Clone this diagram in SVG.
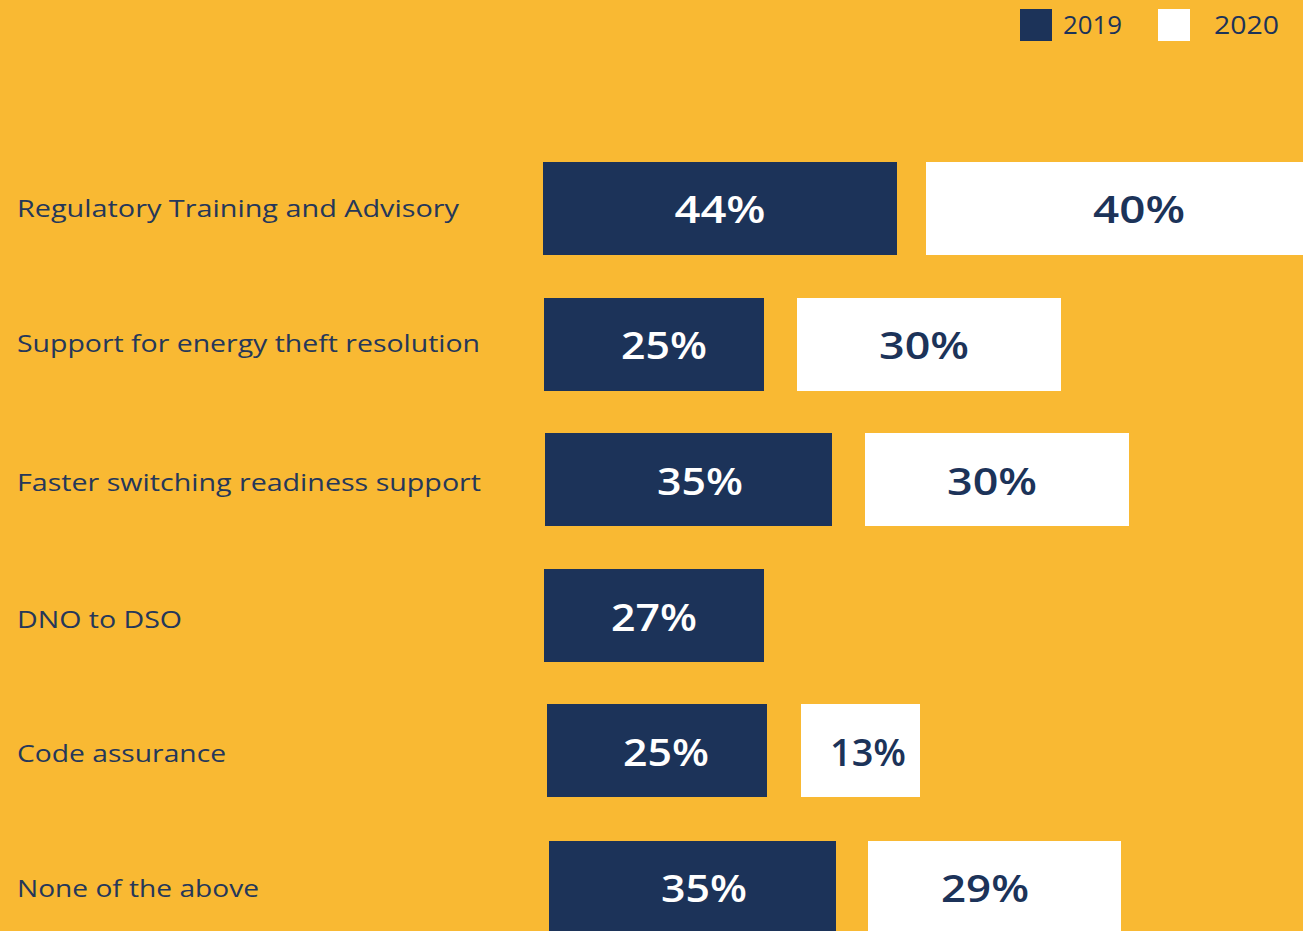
<svg xmlns="http://www.w3.org/2000/svg" width="1303" height="931" viewBox="0 0 1303 931">
<style>
.bg{fill:#F9B933}
.n{fill:#1C3359}
.w{fill:#FFFFFF}
.lbl{font-family:"Open Sans","Liberation Sans",sans-serif;font-size:24px;fill:#25375A}
.pn{font-family:"Open Sans","Liberation Sans",sans-serif;font-size:38px;font-weight:600;fill:#FFFFFF;text-anchor:middle}
.pw{font-family:"Open Sans","Liberation Sans",sans-serif;font-size:38px;font-weight:600;fill:#1C3359;text-anchor:middle}
.leg{font-family:"Open Sans","Liberation Sans",sans-serif;font-size:25px;fill:#1C3359}
</style>
<rect class="bg" x="0" y="0" width="1303" height="931"/>
<g id="legend">
<rect class="n" x="1020" y="9" width="32" height="32"/>
<text class="leg" x="1063" y="34" textLength="59" lengthAdjust="spacingAndGlyphs">2019</text>
<rect class="w" x="1158" y="9" width="32" height="32"/>
<text class="leg" x="1214" y="34" textLength="65" lengthAdjust="spacingAndGlyphs">2020</text>
</g>
<g id="row1">
<text class="lbl" x="17" y="217" textLength="442" lengthAdjust="spacingAndGlyphs">Regulatory Training and Advisory</text>
<rect class="n" x="543" y="162" width="354" height="93"/>
<text class="pn" x="720" y="223" textLength="91" lengthAdjust="spacingAndGlyphs">44%</text>
<rect class="w" x="926" y="162" width="377" height="93"/>
<text class="pw" x="1139" y="223" textLength="92" lengthAdjust="spacingAndGlyphs">40%</text>
</g>
<g id="row2">
<text class="lbl" x="17" y="352" textLength="463" lengthAdjust="spacingAndGlyphs">Support for energy theft resolution</text>
<rect class="n" x="544" y="298" width="220" height="93"/>
<text class="pn" x="664" y="359" textLength="86" lengthAdjust="spacingAndGlyphs">25%</text>
<rect class="w" x="797" y="298" width="264" height="93"/>
<text class="pw" x="924" y="359" textLength="90" lengthAdjust="spacingAndGlyphs">30%</text>
</g>
<g id="row3">
<text class="lbl" x="17" y="491" textLength="464" lengthAdjust="spacingAndGlyphs">Faster switching readiness support</text>
<rect class="n" x="545" y="433" width="287" height="93"/>
<text class="pn" x="700" y="495" textLength="86" lengthAdjust="spacingAndGlyphs">35%</text>
<rect class="w" x="865" y="433" width="264" height="93"/>
<text class="pw" x="992" y="495" textLength="90" lengthAdjust="spacingAndGlyphs">30%</text>
</g>
<g id="row4">
<text class="lbl" x="17" y="628" textLength="165" lengthAdjust="spacingAndGlyphs">DNO to DSO</text>
<rect class="n" x="544" y="569" width="220" height="93"/>
<text class="pn" x="654" y="631" textLength="86" lengthAdjust="spacingAndGlyphs">27%</text>
</g>
<g id="row5">
<text class="lbl" x="17" y="762" textLength="209" lengthAdjust="spacingAndGlyphs">Code assurance</text>
<rect class="n" x="547" y="704" width="220" height="93"/>
<text class="pn" x="666" y="766" textLength="86" lengthAdjust="spacingAndGlyphs">25%</text>
<rect class="w" x="801" y="704" width="119" height="93"/>
<text class="pw" x="868" y="766" textLength="76" lengthAdjust="spacingAndGlyphs">13%</text>
</g>
<g id="row6">
<text class="lbl" x="17" y="897" textLength="242" lengthAdjust="spacingAndGlyphs">None of the above</text>
<rect class="n" x="549" y="841" width="287" height="90"/>
<text class="pn" x="704" y="902" textLength="86" lengthAdjust="spacingAndGlyphs">35%</text>
<rect class="w" x="868" y="841" width="253" height="90"/>
<text class="pw" x="985" y="902" textLength="88" lengthAdjust="spacingAndGlyphs">29%</text>
</g>
<g id="connectors"/>
</svg>
